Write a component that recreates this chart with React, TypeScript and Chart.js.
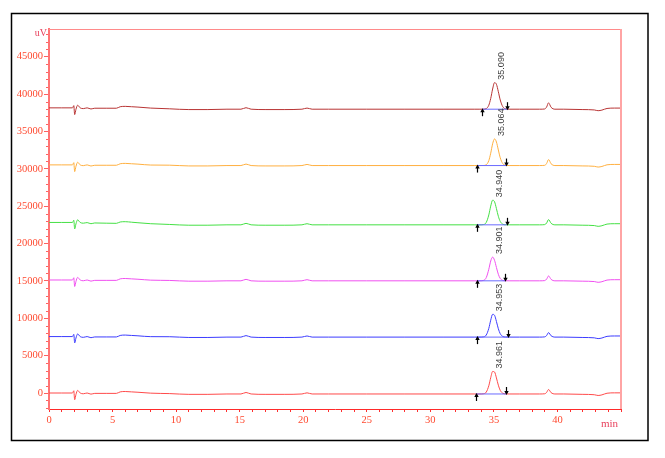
import React, { useEffect, useRef } from 'react';
import { Chart, registerables } from 'chart.js';

Chart.register(...registerables);

const W = 665;
const H = 458;

// retention time grid (min)
const TIME = [
  0, 1.0, 1.85, 1.95, 2.02, 2.12, 2.25, 2.45, 2.7, 3.0,
  3.3, 3.6, 4.5, 5.3, 5.6, 6.0, 6.5, 7.0, 8.0, 9.5,
  11, 12.5, 14, 15.1, 15.5, 15.9, 17, 18.5, 19.9, 20.3,
  20.7, 22, 25, 28, 31, 33.5, 33.9, 34.2, 34.4, 34.6,
  34.75, 34.9, 35.05, 35.2, 35.35, 35.5, 35.7, 35.9, 36.2, 37,
  38.6, 39.0, 39.15, 39.3, 39.5, 39.8, 40.5, 42.0, 42.9, 43.2,
  43.5, 43.9, 44.5, 45,
];

const DARKRED = [
  38150, 38150, 38150, 38450, 37250, 37950, 38500, 38150, 38050, 38150,
  38000, 38100, 38100, 38100, 38300, 38350, 38300, 38250, 38120, 38020,
  37920, 37920, 37970, 37970, 38170, 37970, 37920, 37920, 37970, 38120,
  37970, 37970, 37970, 37970, 37970, 37970, 37970, 37976, 38050, 38498,
  39398, 40667, 41524, 41303, 40310, 39202, 38305, 38024, 37970, 37970,
  37970, 38000, 38270, 38820, 38225, 37970, 37970, 37920, 37870, 37770,
  37850, 38070, 38120, 38120,
];

const ORANGE = [
  30520, 30520, 30520, 30820, 29620, 30320, 30870, 30520, 30420, 30520,
  30370, 30470, 30470, 30470, 30670, 30720, 30670, 30620, 30500, 30480,
  30380, 30380, 30430, 30430, 30630, 30430, 30380, 30380, 30430, 30580,
  30430, 30430, 30430, 30430, 30430, 30430, 30430, 30440, 30540, 31088,
  32085, 33339, 33997, 33580, 32517, 31468, 30692, 30470, 30430, 30430,
  30430, 30460, 30710, 31230, 30670, 30430, 30430, 30380, 30330, 30230,
  30310, 30530, 30580, 30580,
];

const GREEN = [
  22820, 22820, 22820, 23120, 21950, 22620, 23170, 22820, 22720, 22800,
  22650, 22750, 22720, 22700, 22880, 22920, 22850, 22780, 22650, 22550,
  22450, 22450, 22500, 22500, 22700, 22500, 22450, 22450, 22500, 22650,
  22500, 22500, 22500, 22500, 22500, 22500, 22500, 22542, 22825, 23825,
  25002, 25797, 25593, 24671, 23642, 22951, 22584, 22509, 22500, 22500,
  22500, 22530, 22745, 23200, 22710, 22500, 22500, 22450, 22400, 22300,
  22380, 22600, 22650, 22650,
];

const MAGENTA = [
  15120, 15120, 15120, 15420, 14250, 14920, 15470, 15120, 15020, 15120,
  14970, 15070, 15070, 15070, 15270, 15320, 15270, 15220, 15100, 15060,
  14960, 14960, 15010, 15010, 15210, 15010, 14960, 14960, 15010, 15160,
  15010, 15010, 15010, 15010, 15010, 15010, 15010, 15073, 15439, 16553,
  17658, 18180, 17756, 16796, 15881, 15329, 15064, 15015, 15010, 15010,
  15010, 15040, 15240, 15660, 15205, 15010, 15010, 14960, 14910, 14810,
  14890, 15110, 15160, 15160,
];

const BLUE = [
  7550, 7550, 7550, 7850, 6700, 7350, 7900, 7550, 7450, 7550,
  7400, 7500, 7500, 7500, 7700, 7750, 7700, 7650, 7540, 7530,
  7430, 7430, 7480, 7480, 7680, 7480, 7430, 7430, 7480, 7630,
  7480, 7480, 7480, 7480, 7480, 7480, 7480, 7514, 7757, 8647,
  9738, 10528, 10398, 9567, 8600, 7931, 7566, 7490, 7480, 7480,
  7480, 7510, 7690, 8080, 7660, 7480, 7480, 7430, 7380, 7280,
  7360, 7580, 7630, 7630,
];

const RED = [
  0, 0, 0, 300, -900, -200, 350, 0, -100, 0,
  -150, -50, -50, -50, 150, 200, 150, 100, -20, -80,
  -180, -180, -130, -130, 70, -130, -180, -180, -130, 20,
  -130, -130, -130, -130, -130, -130, -130, -99, 122, 970,
  2049, 2882, 2814, 2017, 1045, 353, -36, -119, -130, -130,
  -130, -100, 80, 470, 50, -130, -130, -180, -230, -330,
  -250, -30, 20, 20,
];

const SERIES_VALUES = [DARKRED, ORANGE, GREEN, MAGENTA, BLUE, RED];
const SERIES_COLORS = ['#b83434', '#ffb040', '#44e044', '#f050f0', '#3c3cff', '#ff4a4a'];

// peak retention times and labels
const RT = [35.09, 35.064, 34.94, 34.901, 34.953, 34.961];
const RT_LABELS = ['35.090', '35.064', '34.940', '34.901', '34.953', '34.961'];
// integration start / end (min) and baseline level
const PEAK_START = [34.07, 33.7, 33.65, 33.7, 33.65, 33.57];
const PEAK_END = [36.06, 35.98, 36.0, 35.9, 36.1, 35.98];
const PEAK_BASE = [37970, 30430, 22500, 15010, 7480, -130];

// y tick labels (every 5000 uV)
const Y_TICKS = [0, 5000, 10000, 15000, 20000, 25000, 30000, 35000, 40000, 45000];

const Y_MIN = -2140;
const Y_MAX = 48700;
const X_MIN = 0;
const X_MAX = 45;

export default function App() {
  const ref = useRef<HTMLCanvasElement>(null);

  useEffect(() => {
    const canvas = ref.current;
    if (!canvas) return;

    const datasets: any[] = [];
    SERIES_VALUES.forEach((vals, i) => {
      datasets.push({
        data: TIME.map((t, j) => ({ x: t, y: vals[j] })),
        borderColor: SERIES_COLORS[i],
        borderWidth: 1,
        pointRadius: 0,
        cubicInterpolationMode: 'monotone',
        fill: false,
        order: 2,
      });
    });
    PEAK_START.forEach((s, i) => {
      datasets.push({
        data: [
          { x: s, y: PEAK_BASE[i] },
          { x: PEAK_END[i], y: PEAK_BASE[i] },
        ],
        borderColor: '#6b6bff',
        borderWidth: 1,
        pointRadius: 0,
        fill: false,
        order: 1,
      });
    });

    const deco = {
      id: 'deco',
      afterDraw(chart: any) {
        const ctx = chart.ctx as CanvasRenderingContext2D;
        const { left, top, right, bottom } = chart.chartArea;
        const xs = chart.scales.x;
        const ys = chart.scales.y;
        ctx.save();

        // plot box top and right edges
        ctx.strokeStyle = '#ff8a8a';
        ctx.lineWidth = 1;
        ctx.beginPath();
        ctx.moveTo(left, top + 0.5);
        ctx.lineTo(right, top + 0.5);
        ctx.stroke();
        ctx.strokeStyle = '#ffa4a4';
        ctx.lineWidth = 2;
        ctx.beginPath();
        ctx.moveTo(right, top);
        ctx.lineTo(right, bottom);
        ctx.stroke();

        // minor y ticks
        ctx.strokeStyle = '#ff6060';
        ctx.lineWidth = 1;
        for (let v = Math.ceil(Y_MIN / 1000) * 1000; v <= Y_MAX; v += 1000) {
          if (v % 5000 === 0) continue;
          const y = Math.round(ys.getPixelForValue(v)) + 0.5;
          ctx.beginPath();
          ctx.moveTo(left - 3, y);
          ctx.lineTo(left - 1, y);
          ctx.stroke();
        }

        // integration arrows
        ctx.strokeStyle = '#000';
        ctx.fillStyle = '#000';
        ctx.lineWidth = 1.2;
        const arrow = (x: number, yTip: number, dir: number) => {
          const len = 8;
          const yTail = yTip - dir * len;
          ctx.beginPath();
          ctx.moveTo(x, yTail);
          ctx.lineTo(x, yTip - dir * 2);
          ctx.stroke();
          ctx.beginPath();
          ctx.moveTo(x, yTip);
          ctx.lineTo(x - 2.2, yTip - dir * 4);
          ctx.lineTo(x + 2.2, yTip - dir * 4);
          ctx.closePath();
          ctx.fill();
        };
        PEAK_START.forEach((s, i) => {
          const yb = ys.getPixelForValue(PEAK_BASE[i]);
          arrow(Math.round(xs.getPixelForValue(s)) + 0.5, yb - 1, -1);
          arrow(Math.round(xs.getPixelForValue(PEAK_END[i])) + 0.5, yb + 1, 1);
        });

        // peak labels
        ctx.fillStyle = '#404040';
        ctx.font = "9px 'Liberation Sans', Arial, sans-serif";
        RT.forEach((rt, i) => {
          const vals = SERIES_VALUES[i];
          let apex = -Infinity;
          TIME.forEach((t, j) => {
            if (t >= PEAK_START[i] && t <= PEAK_END[i]) apex = Math.max(apex, vals[j]);
          });
          const px = xs.getPixelForValue(rt);
          const py = ys.getPixelForValue(apex);
          ctx.save();
          ctx.translate(px + 6.5, py - 3);
          ctx.rotate(-Math.PI / 2);
          ctx.textAlign = 'left';
          ctx.textBaseline = 'middle';
          ctx.fillText(RT_LABELS[i], 0, 0);
          ctx.restore();
        });

        // axis unit labels
        ctx.fillStyle = '#e8405c';
        ctx.font = "10px 'Liberation Serif', 'Times New Roman', serif";
        ctx.textAlign = 'right';
        ctx.textBaseline = 'middle';
        ctx.fillText('uV', left - 2, top + 4);
        ctx.font = "11px 'Liberation Serif', 'Times New Roman', serif";
        ctx.textAlign = 'left';
        ctx.fillText('min', 601, 424);

        // outer frame
        ctx.strokeStyle = '#000';
        ctx.lineWidth = 1.5;
        ctx.strokeRect(11.5, 13.5, 636.5, 427);

        ctx.restore();
      },
    };

    const chart = new Chart(canvas, {
      type: 'line',
      data: { datasets },
      options: {
        responsive: false,
        maintainAspectRatio: false,
        animation: false,
        devicePixelRatio: 1,
        layout: { padding: { left: 0, top: 29, right: 44, bottom: 0 } },
        plugins: {
          legend: { display: false },
          tooltip: { enabled: false },
          title: { display: false },
        },
        elements: { line: { tension: 0 } },
        scales: {
          x: {
            type: 'linear',
            min: X_MIN,
            max: X_MAX,
            afterFit: (scale: any) => {
              scale.height = 49;
            },
            ticks: {
              stepSize: 1,
              autoSkip: false,
              maxRotation: 0,
              padding: 2,
              color: '#ff4a30',
              font: { family: "'Liberation Serif', 'Times New Roman', serif", size: 10.5 },
              callback: (v: any) => (v % 5 === 0 && v < X_MAX ? String(v) : ''),
            },
            grid: {
              display: true,
              drawOnChartArea: false,
              tickLength: 3,
              color: '#ff3030',
            },
            border: { display: true, color: '#ff2a2a', width: 1 },
          },
          y: {
            type: 'linear',
            min: Y_MIN,
            max: Y_MAX,
            afterFit: (scale: any) => {
              scale.width = 49;
            },
            afterBuildTicks: (scale: any) => {
              scale.ticks = Y_TICKS.map((v) => ({ value: v }));
            },
            ticks: {
              autoSkip: false,
              padding: 1,
              color: '#ff4a30',
              font: { family: "'Liberation Serif', 'Times New Roman', serif", size: 10.5 },
              callback: (v: any) => String(v),
            },
            grid: {
              display: true,
              drawOnChartArea: false,
              tickLength: 5,
              color: '#ff6060',
            },
            border: { display: true, color: '#ff7474', width: 2 },
          },
        },
      },
      plugins: [deco],
    } as any);

    return () => {
      chart.destroy();
    };
  }, []);

  return (
    <div style={{ position: 'fixed', left: 0, top: 0, width: W, height: H, background: '#fff' }}>
      <canvas ref={ref} width={W} height={H} style={{ width: W, height: H, display: 'block' }} />
    </div>
  );
}
